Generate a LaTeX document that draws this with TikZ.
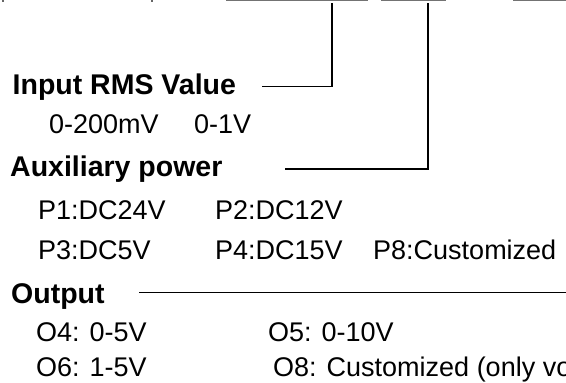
\documentclass[tikz,border=0pt]{standalone}
\usepackage{fontspec}
\setmainfont{Liberation Sans}
\begin{document}
\begin{tikzpicture}[x=1pt,y=-1pt,
  head/.style={anchor=base west,inner sep=0pt,font=\fontsize{28.5}{34}\selectfont\bfseries},
  item/.style={anchor=base west,inner sep=0pt,font=\fontsize{27}{32}\selectfont},
  conn/.style={draw=black,line width=1.3pt},
  topline/.style={draw=black!55,line width=1pt}]
\useasboundingbox (0,0) rectangle (566,383);
\clip (0,0) rectangle (566,383);
% top underlines (cut-off)
\draw[topline] (226,0.6) -- (368,0.6);
\draw[topline] (381,0.6) -- (446,0.6);
\draw[topline] (513,0.6) -- (566,0.6);
\fill[black!60] (2,0) rectangle (4,2);
\fill[black!60] (151,0) rectangle (153,2);
% headings and items
\node[head] (inp) at (12.5,94.5) {Input RMS Value};
\node[item] (r1) at (49,133.5) {0-200mV};
\node[item] (r2) at (194,133.5) {0-1V};
\node[head] (aux) at (10,176.5) {Auxiliary power};
\node[item] (p1) at (38,219.5) {P1:DC24V};
\node[item] (p2) at (215,219.5) {P2:DC12V};
\node[item] (p3) at (38,259) {P3:DC5V};
\node[item] (p4) at (215,259) {P4:DC15V};
\node[item] (p8) at (373,259) {P8:Customized};
\node[head] (out) at (11,303) {Output};
\node[item] (o4) at (36,341) {O4: 0-5V};
\node[item] (o5) at (268,341) {O5: 0-10V};
\node[item] (o6) at (36,376) {O6: 1-5V};
\node[item] (o8) at (273,376) {O8: Customized (only vo};
% connectors
\coordinate (t1) at (332,3);
\coordinate (e1) at (262,86.5);
\coordinate (t2) at (428,3);
\coordinate (e2) at (285,169);
\coordinate (e3) at (139,292.7);
\coordinate (f3) at (566,292.7);
\draw[conn] (t1) |- (e1);
\draw[conn] (t2) |- (e2);
\draw[conn] (e3) -- (f3);
\end{tikzpicture}
\end{document}
